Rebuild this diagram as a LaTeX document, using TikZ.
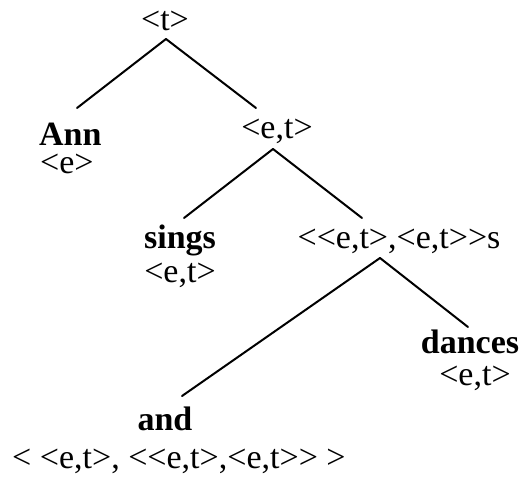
\documentclass[tikz,border=0pt]{standalone}
\usepackage{fontspec}
\setmainfont{Liberation Serif}[Ligatures=ResetAll]
\begin{document}
\begin{tikzpicture}[x=1pt,y=-1pt,
  lbl/.style={inner sep=0pt,font=\fontsize{34}{40}\selectfont},
  word/.style={lbl,font=\fontsize{34}{40}\selectfont\bfseries},
  branch/.style={line width=2pt,line cap=round}]
\useasboundingbox (0,0) rectangle (523,483);

% labels and types
\node[lbl,anchor=base] (t) at (165,30) {<t>};
\node[word,anchor=base west] (ann) at (39,145) {Ann};
\node[lbl,anchor=base west] (anne) at (40,173) {<e>};
\node[lbl,anchor=base] (et) at (277,138) {<e,t>};
\node[word,anchor=base] (sings) at (180,248) {sings};
\node[lbl,anchor=base] (singset) at (180,282) {<e,t>};
\node[lbl,anchor=base] (conj) at (399,248) {<{}<e,t>,<e,t>{}>s};
\node[word,anchor=base] (dances) at (470,353) {dances};
\node[lbl,anchor=base] (dancesset) at (475,385) {<e,t>};
\node[word,anchor=base] (and) at (165,430) {and};
\node[lbl,anchor=base west] (andt) at (12,468) {< <e,t>, <{}<e,t>,<e,t>{}> >};

% branch end points
\coordinate (t-b) at (166,39);
\coordinate (ann-a) at (77,108);
\coordinate (et-a) at (256,108);
\coordinate (et-b) at (273,149);
\coordinate (sings-a) at (184,218);
\coordinate (conj-a) at (362,218);
\coordinate (conj-b) at (380,258);
\coordinate (and-a) at (182,396);
\coordinate (dances-a) at (468,327);

% branches
\draw[branch] (t-b) -- (ann-a);
\draw[branch] (t-b) -- (et-a);
\draw[branch] (et-b) -- (sings-a);
\draw[branch] (et-b) -- (conj-a);
\draw[branch] (conj-b) -- (and-a);
\draw[branch] (conj-b) -- (dances-a);
\end{tikzpicture}
\end{document}
